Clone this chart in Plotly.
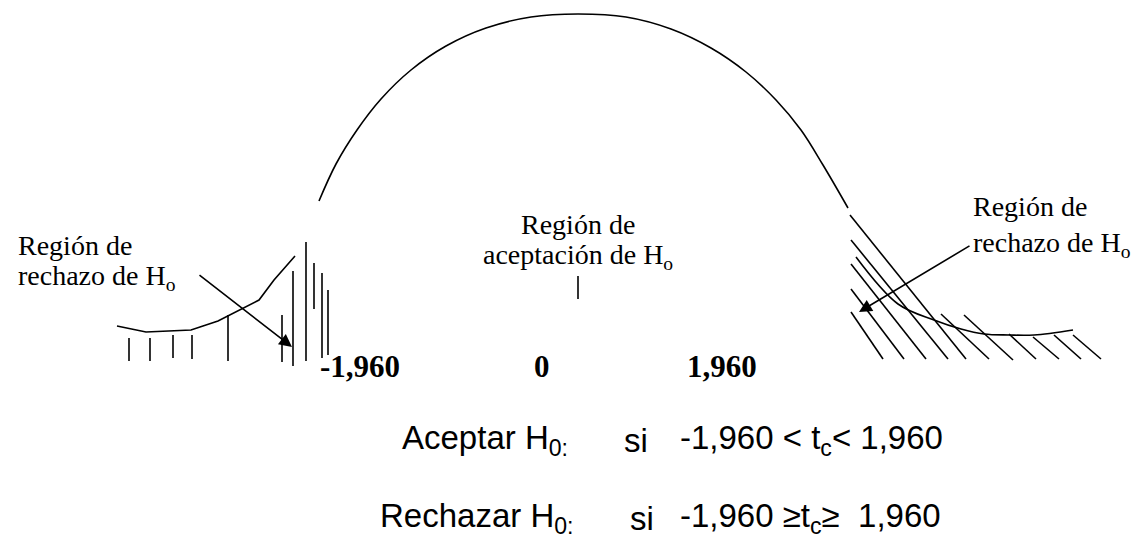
import plotly.graph_objects as go

W, H = 1142, 542

# Main bell arc (acceptance region)
arc_x = [311, 328, 349, 373, 403, 438, 478, 523, 570, 618, 663, 703, 738, 768, 793, 815, 840]
arc_y = [193, 156, 122, 91, 62, 38, 20, 9, 6, 9, 21, 40, 64, 92, 122, 157, 200]

# Left tail curve
lc_x = [109, 138, 183, 210, 251, 266, 287]
lc_y = [318, 324, 322, 313, 292, 272, 248]

# Left vertical hatch lines: x, top, bottom
lh_x = [121, 142, 165, 184, 220, 274, 285, 298, 306, 314, 320]
lh_top = [330, 330, 327, 327, 307, 307, 263, 234, 255, 265, 282]
lh_bot = [353, 353, 350, 351, 353, 354, 358, 353, 301, 350, 347]

# Right tail curve
rc_x = [848, 890, 926, 953, 976, 1001, 1026, 1065]
rc_y = [249, 296, 312, 321, 326, 327, 327, 322]

# Right diagonal hatch lines: start (x0,y0) -> end (x1,y1)
rh_x0 = [842, 843, 843, 843, 843, 933, 956, 1001, 1025, 1046, 1065]
rh_y0 = [207, 232, 256, 281, 304, 306, 307, 326, 329, 327, 327]
rh_x1 = [958, 940, 918, 896, 875, 981, 1005, 1028, 1051, 1073, 1093]
rh_y1 = [351, 351, 351, 351, 351, 351, 352, 351, 351, 351, 351]

# Acceptance tick
tick_x = [570, 570]
tick_y = [268, 291]

# Arrows: tail -> head
arrows = [
    {"tail": (190, 266), "head": (284, 339)},
    {"tail": (963, 237), "head": (851, 304)},
]

axis_labels = ["-1,960", "0", "1,960"]
axis_label_x = [352, 534, 714]
axis_label_y = 358

fig = go.Figure()
line = dict(color="black", width=1.6)

fig.add_trace(go.Scatter(x=arc_x, y=arc_y, mode="lines", line=dict(color="black", width=1.6, shape="spline")))
fig.add_trace(go.Scatter(x=lc_x, y=lc_y, mode="lines", line=line))
fig.add_trace(go.Scatter(x=rc_x, y=rc_y, mode="lines", line=dict(color="black", width=1.6, shape="spline")))
fig.add_trace(go.Scatter(x=tick_x, y=tick_y, mode="lines", line=line))

hx, hy = [], []
for x, t, b in zip(lh_x, lh_top, lh_bot):
    hx += [x, x, None]
    hy += [t, b, None]
fig.add_trace(go.Scatter(x=hx, y=hy, mode="lines", line=line))

dx, dy = [], []
for a, b, c, d in zip(rh_x0, rh_y0, rh_x1, rh_y1):
    dx += [a, c, None]
    dy += [b, d, None]
fig.add_trace(go.Scatter(x=dx, y=dy, mode="lines", line=line))

for ar in arrows:
    fig.add_annotation(x=ar["head"][0], y=ar["head"][1], ax=ar["tail"][0], ay=ar["tail"][1],
                       xref="x", yref="y", axref="x", ayref="y", text="", showarrow=True,
                       arrowhead=2, arrowsize=1.6, arrowwidth=1.6, arrowcolor="black")

serif = dict(family="Liberation Serif, Times New Roman, serif", size=28, color="black")
texts = [
    (8, 237, "Región de", "left"),
    (8, 269, "rechazo de H<sub>o</sub>", "left"),
    (570, 216, "Región de", "center"),
    (570, 248, "aceptación de H<sub>o</sub>", "center"),
    (963, 198, "Región de", "left"),
    (963, 236, "rechazo de H<sub>o</sub>", "left"),
]
for x, y, t, anc in texts:
    fig.add_annotation(x=x, y=y, text=t, showarrow=False, xanchor=anc, yanchor="middle", font=serif)

bold = dict(family="Liberation Serif, Times New Roman, serif", size=31, color="black")
for lx, lt in zip(axis_label_x, axis_labels):
    fig.add_annotation(x=lx, y=axis_label_y, text="<b>" + lt + "</b>", showarrow=False,
                       xanchor="center", yanchor="middle", font=bold)

sans = dict(family="Liberation Sans, Arial, sans-serif", size=33, color="black")
rules = [
    (432, "Aceptar H<sub>0:</sub>", 562, 614, "-1,960 &lt; t<sub>c</sub>&lt; 1,960"),
    (510, "Rechazar H<sub>0:</sub>", 568, 620, "-1,960 ≥t<sub>c</sub>≥  1,960"),
]
for y, a, ax_, sx, e in rules:
    fig.add_annotation(x=ax_, y=y, text=a, showarrow=False, xanchor="right", yanchor="middle", font=sans)
    fig.add_annotation(x=sx, y=y, text="si", showarrow=False, xanchor="left", yanchor="middle", font=sans)
    fig.add_annotation(x=670, y=y, text=e, showarrow=False, xanchor="left", yanchor="middle", font=sans)

fig.update_layout(
    width=W, height=H, margin=dict(l=0, r=0, t=0, b=0),
    paper_bgcolor="white", plot_bgcolor="white", showlegend=False,
    xaxis=dict(range=[0, W], visible=False, fixedrange=True),
    yaxis=dict(range=[H, 0], visible=False, fixedrange=True),
)
fig.write_html("out.html")
